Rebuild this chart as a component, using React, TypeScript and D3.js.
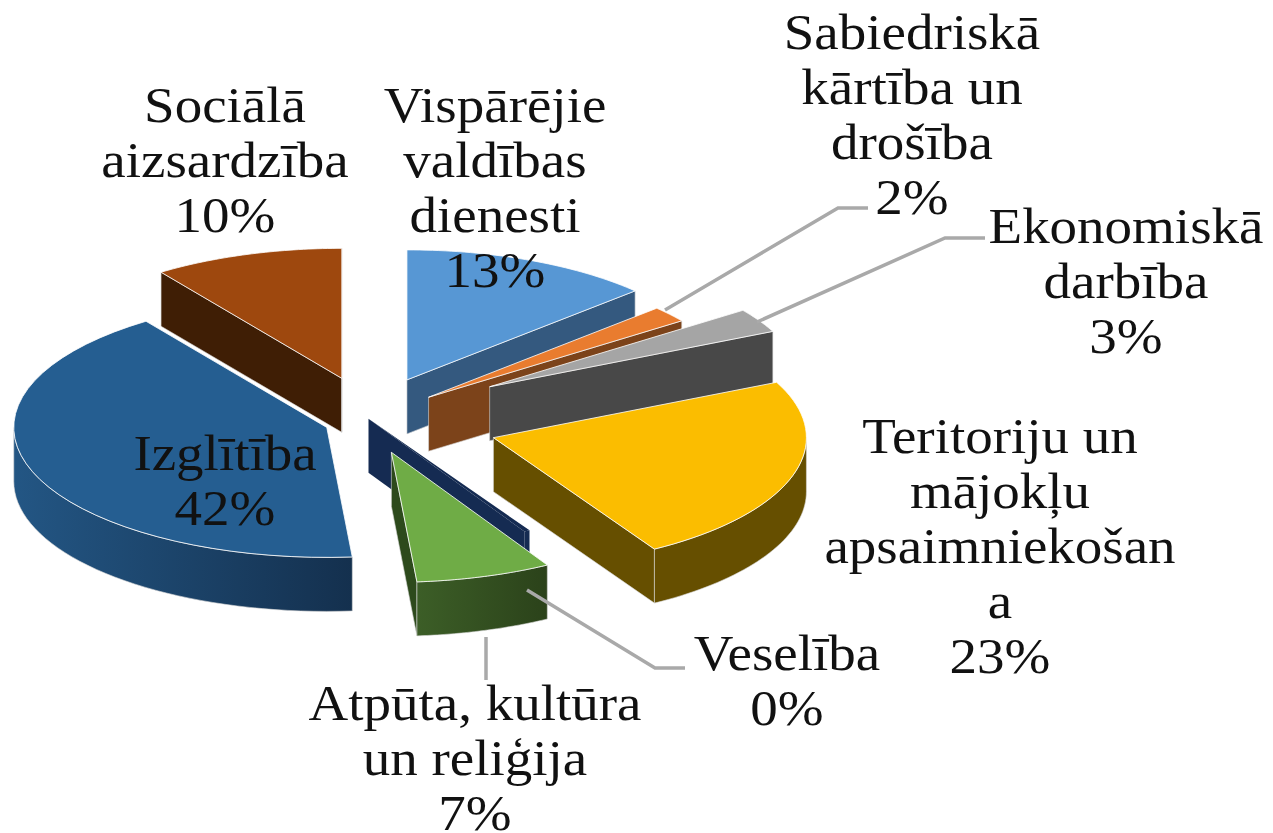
import React from 'react';
import * as d3 from 'd3';

const categories = ['Vispārējie valdības dienesti', 'Sabiedriskā kārtība un drošība', 'Ekonomiskā darbība', 'Teritoriju un mājokļu apsaimniekošana', 'Veselība', 'Atpūta, kultūra un reliģija', 'Izglītība', 'Sociālā aizsardzība'];
const values = [13, 2, 3, 23.4, 0.3, 7, 41.5, 9.8];
const labelLines = [
    ['Vispārējie', 'valdības', 'dienesti'],
    ['Sabiedriskā', 'kārtība un', 'drošība'],
    ['Ekonomiskā', 'darbība'],
    ['Teritoriju un', 'mājokļu', 'apsaimniekošan', 'a'],
    ['Veselība'],
    ['Atpūta, kultūra', 'un reliģija'],
    ['Izglītība'],
    ['Sociālā', 'aizsardzība'],
];

const topColors = ['#5797d4', '#e97c2f', '#a5a5a5', '#fbbd00', '#152b52', '#6fac46', '#255e91', '#9e480e'];
const wallColors = ['#34597f', '#7c431a', '#484848', '#664f00', '#152b52', '#2d4a1c', '#1d4a74', '#3f1e05'];
const wallGradients = [null, null, null, null, null, ['#3c5e27', '#2b421a'], ['#235684', '#14304e'], null];

// how far each slice is pulled out of the pie
const explosion = [93, 76, 139, 129, -3, 72, 46, 93];
// label anchor: centre x, first baseline
const labelX = [495, 912, 1126, 1000, 787, 475, 225, 225];
const labelY = [122, 49, 243, 453, 670, 720, 470, 122];
const leaders = [
    [[665, 310], [838, 208], [868, 208]],
    [[757, 322], [945, 238], [985, 238]],
    [[527, 590], [655, 668], [685, 668]],
    [[486, 637], [486, 680]],
];

const cx = 370, cy = 420;
const rx = 313, ry = 130, depth = 54;
const lineGap = 55;
const stretch = 1.1;

const pie = d3.pie<number>().sort(null).value(d => d);
const line = d3.line();
const slices = pie(values);
const drawOrder = [7, 0, 1, 2, 3, 4, 5, 6];

const App = () => {
    const pieces = drawOrder.map(i => {
        const s = slices[i];
        const mid = (s.startAngle + s.endAngle) / 2;
        const ax = cx + explosion[i] * Math.sin(mid);
        const ay = cy - explosion[i] * 0.47 * Math.cos(mid);
        const pt = (a: number, dy = 0): [number, number] => [ax + rx * Math.sin(a), ay - ry * Math.cos(a) + dy];
        const arcPts = (a0: number, a1: number, dy = 0) =>
            d3.range(41).map(k => pt(a0 + ((a1 - a0) * k) / 40, dy));

        const topPts: [number, number][] = [[ax, ay], ...arcPts(s.startAngle, s.endAngle)];
        const walls: { d: string; fill: string }[] = [];
        const radial = (a: number) => line([[ax, ay], pt(a), pt(a, depth), [ax, ay + depth]]) + 'Z';

        // only faces turned to the viewer are drawn
        if (Math.sin(s.startAngle) < 0) walls.push({ d: radial(s.startAngle), fill: wallColors[i] });
        if (Math.sin(s.endAngle) > 0) walls.push({ d: radial(s.endAngle), fill: wallColors[i] });
        const a0 = Math.max(s.startAngle, Math.PI / 2);
        const a1 = Math.min(s.endAngle, (3 * Math.PI) / 2);
        if (a1 > a0) {
            const d = line([...arcPts(a0, a1), ...arcPts(a0, a1, depth).reverse()]) + 'Z';
            walls.push({ d, fill: wallGradients[i] ? `url(#wall${i})` : wallColors[i] });
        }
        return { i, top: line(topPts) + 'Z', walls };
    });

    return (
        <svg width={1273} height={833} style={{ position: 'absolute', left: 0, top: 0, background: '#fff' }}>
            <defs>
                {wallGradients.map((g, i) => g && (
                    <linearGradient key={i} id={`wall${i}`} x1="0" x2="1" y1="0" y2="0">
                        <stop offset="0" stopColor={g[0]} />
                        <stop offset="1" stopColor={g[1]} />
                    </linearGradient>
                ))}
            </defs>
            {pieces.map(p => (
                <g key={categories[p.i]}>
                    {p.walls.map((w, k) => (
                        <path key={k} d={w.d} fill={w.fill} stroke="#d9d9d9" strokeWidth={values[p.i] < 1 ? 0 : 0.6} />
                    ))}
                    {/* the sliver has no visible white edge */}
                    <path d={p.top} fill={topColors[p.i]} stroke="#fff" strokeWidth={values[p.i] < 1 ? 0 : 1} strokeOpacity={0.8} />
                </g>
            ))}
            {leaders.map((pts, i) => (
                <path key={i} d={line(pts as [number, number][]) as string} fill="none" stroke="#a9a9a9" strokeWidth={3.5} />
            ))}
            {labelLines.map((lines, i) => (
                <g key={i} fontFamily="'Liberation Serif', serif" fontSize={50} fill="#111" textAnchor="middle"
                    transform={`translate(${labelX[i]},${labelY[i]}) scale(${stretch},1)`}>
                    {lines.map((t, k) => <text key={k} y={k * lineGap}>{t}</text>)}
                    <text y={lines.length * lineGap}>{Math.round(values[i])}%</text>
                </g>
            ))}
        </svg>
    );
};

export default App;
